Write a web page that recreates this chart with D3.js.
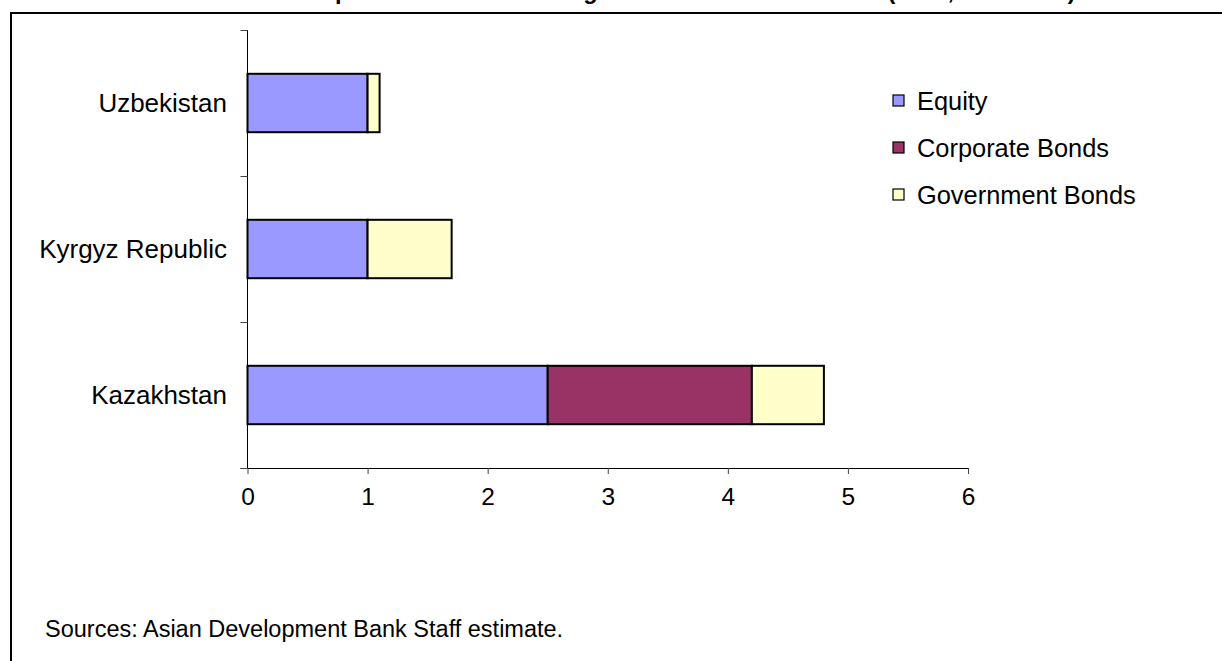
<!DOCTYPE html>
<html><head><meta charset="utf-8">
<script src="https://cdn.jsdelivr.net/npm/d3@7"></script>
<style>
html,body{margin:0;padding:0;background:#fff;}
svg{display:block;font-family:Arial,"Liberation Sans",sans-serif;}
</style></head>
<body>
<svg id="chart" width="1222" height="661"></svg>
<script>
const titleText = "Capital Market Size in Regional Member Economies (2005, % of GDP)";
const categories = ["Uzbekistan", "Kyrgyz Republic", "Kazakhstan"];
const seriesNames = ["Equity", "Corporate Bonds", "Government Bonds"];
const equity = [1.0, 1.0, 2.5];
const corporateBonds = [0, 0, 1.7];
const governmentBonds = [0.1, 0.7, 0.6];
const xTickValues = [0, 1, 2, 3, 4, 5, 6];
const colors = ["#9999FF", "#993366", "#FFFFCC"];
const sourceText = "Sources: Asian Development Bank Staff estimate.";

const svg = d3.select("#chart");

// frame
svg.append("rect").attr("x", 11).attr("y", 13).attr("width", 1400).attr("height", 800)
  .attr("fill", "#fff").attr("stroke", "#000").attr("stroke-width", 2);

// title (clipped at top)
svg.append("text").attr("x", 305).attr("y", -1.5)
  .attr("font-size", 23.5).attr("font-weight", "bold").attr("fill", "#000")
  .text(titleText);

const x = d3.scaleLinear().domain([0, 6]).range([247.5, 968]);
const y = d3.scaleBand().domain(categories).range([30, 468]).paddingInner(0.6).paddingOuter(0.3);

const table = categories.map((c, i) => ({cat: c, Equity: equity[i], "Corporate Bonds": corporateBonds[i], "Government Bonds": governmentBonds[i]}));
const stacked = d3.stack().keys(seriesNames)(table);

// bars
stacked.forEach((layer, si) => {
  svg.append("g").selectAll("rect").data(layer.filter(d => d[1] - d[0] > 0)).join("rect")
    .attr("x", d => x(d[0]))
    .attr("y", d => y(d.data.cat))
    .attr("width", d => x(d[1]) - x(d[0]))
    .attr("height", y.bandwidth())
    .attr("fill", colors[si])
    .attr("stroke", "#000").attr("stroke-width", 2);
});

// x axis
const xAxis = svg.append("g").attr("transform", "translate(0,468)")
  .call(d3.axisBottom(x).tickValues(xTickValues).tickSize(6).tickPadding(14).tickFormat(d3.format("d")));
xAxis.select(".domain").attr("stroke", "#000").attr("d", `M${x(0) - 7},0.5H${x(6)}`);
xAxis.selectAll(".tick line").attr("stroke", "#444");
xAxis.selectAll(".tick text").attr("font-size", 24.5).attr("fill", "#000").attr("font-family", "Arial, 'Liberation Sans', sans-serif");

// y axis
const yTop = y.range()[0], yBot = y.range()[1];
svg.append("line").attr("x1", x(0)).attr("x2", x(0)).attr("y1", yTop).attr("y2", yBot)
  .attr("stroke", "#000").attr("stroke-width", 1);
const bounds = d3.range(categories.length + 1).map(i => yTop + i * y.step());
svg.append("g").selectAll("line").data(bounds).join("line")
  .attr("x1", x(0) - 7).attr("x2", x(0)).attr("y1", d => d + 0.5).attr("y2", d => d + 0.5)
  .attr("stroke", "#444");
svg.append("g").selectAll("text").data(categories).join("text")
  .attr("x", 227).attr("y", d => y(d) + y.bandwidth() / 2)
  .attr("dy", "0.35em").attr("text-anchor", "end")
  .attr("font-size", 26).attr("fill", "#000").text(d => d);

// legend
const legY = [101, 148, 195];
const leg = svg.append("g").selectAll("g").data(seriesNames).join("g")
  .attr("transform", (d, i) => `translate(893,${legY[i]})`);
leg.append("rect").attr("x", 0).attr("y", -6).attr("width", 11).attr("height", 11)
  .attr("fill", (d, i) => colors[i]).attr("stroke", "#000").attr("stroke-width", 1.2);
leg.append("text").attr("x", 24).attr("y", 0).attr("dy", "0.35em")
  .attr("font-size", 25.4).attr("fill", "#000").text(d => d);

// source
svg.append("text").attr("x", 45).attr("y", 637).attr("font-size", 23.5).attr("fill", "#000").text(sourceText);
</script>
</body></html>
